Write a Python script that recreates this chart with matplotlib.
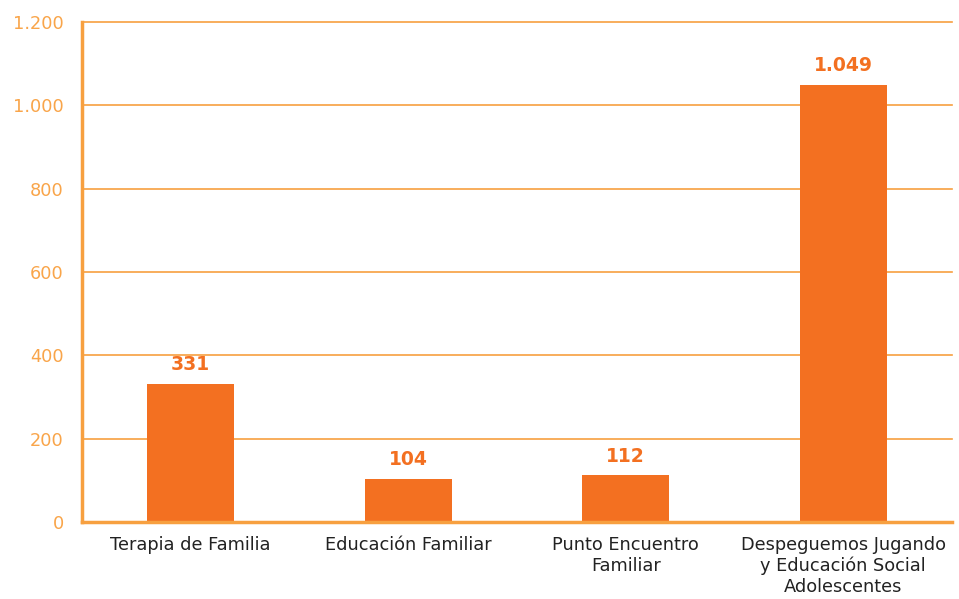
import matplotlib.pyplot as plt
from matplotlib.ticker import FuncFormatter

categories = ["Terapia de Familia", "Educación Familiar", "Punto Encuentro\nFamiliar",
              "Despeguemos Jugando\ny Educación Social\nAdolescentes"]
values = [331, 104, 112, 1049]
yticks = [0, 200, 400, 600, 800, 1000, 1200]

bar_color = "#F37021"
line_color = "#F7A040"
tick_color = "#F9A54A"


def es_format(v, pos=None):
    # Spanish thousands separator
    return f"{int(v):,}".replace(",", ".")


fig = plt.figure(figsize=(9.59, 5.99), dpi=100)
ax = fig.add_axes([0.0855, 0.1285, 0.9072, 0.8348])

x = range(len(categories))
ax.bar(x, values, width=0.4, color=bar_color, zorder=2)

for i, v in zip(x, values):
    ax.annotate(es_format(v), (i, v), xytext=(0, 7), textcoords="offset points",
                ha="center", va="bottom", fontsize=13.5, fontweight="bold", color=bar_color)

ax.set_xlim(-0.5, len(categories) - 0.5)
ax.set_ylim(0, 1200)
ax.set_yticks(yticks)
ax.yaxis.set_major_formatter(FuncFormatter(es_format))
ax.set_xticks(list(x))
ax.set_xticklabels(categories, fontsize=12.8, color="#222222", linespacing=1.2)

ax.tick_params(axis="y", length=0, pad=13, labelsize=12.8, labelcolor=tick_color)
ax.tick_params(axis="x", length=0, pad=10)

ax.grid(axis="y", color=line_color, linewidth=1.2, zorder=0)
ax.set_axisbelow(True)
for gl in ax.get_ygridlines():
    gl.set_clip_on(False)

for side in ["top", "right"]:
    ax.spines[side].set_visible(False)
ax.spines["left"].set_color(line_color)
ax.spines["left"].set_linewidth(2.5)
ax.spines["bottom"].set_color(line_color)
ax.spines["bottom"].set_linewidth(2.5)

fig.savefig("out.png", dpi=100)
